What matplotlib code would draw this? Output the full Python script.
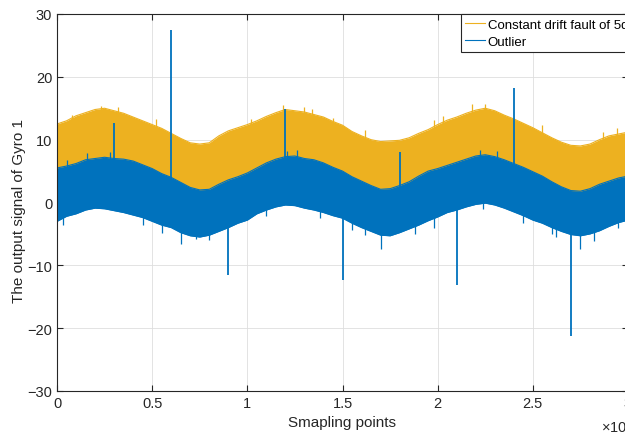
import numpy as np
import matplotlib
matplotlib.use('Agg')
import matplotlib.pyplot as plt
from matplotlib.ticker import FuncFormatter

plt.rcParams['font.family'] = ['Liberation Sans', 'DejaVu Sans']
plt.rcParams['mathtext.fontset'] = 'custom'
plt.rcParams['mathtext.rm'] = 'Liberation Sans'

# envelope of the two gyro signals, read every 500 samples
samples = np.arange(0, 30001, 500)

drift_upper = [12.5, 13.0, 13.8, 14.3, 14.8, 15.0, 14.6, 14.2, 13.6, 13.0, 12.4,
               11.8, 11.0, 10.2, 9.5, 9.3, 9.5, 10.6, 11.4, 11.9, 12.4,
               13.0, 13.7, 14.3, 14.8, 14.6, 14.4, 14.0, 13.6, 12.9, 12.3,
               11.3, 10.6, 10.0, 9.7, 9.8, 9.9, 10.3, 11.0, 11.6, 12.4,
               13.1, 13.6, 14.2, 14.7, 15.0, 14.6, 13.9, 13.3, 12.6, 11.9,
               11.1, 10.3, 9.6, 9.1, 9.0, 9.3, 10.0, 10.6, 10.9, 11.2]
drift_lower = [5.0, 5.3, 5.7, 6.3, 6.5, 6.7, 6.5, 6.4, 6.1, 5.5, 4.9,
               4.1, 3.5, 2.7, 1.9, 1.5, 1.6, 2.4, 3.1, 3.6, 4.2,
               5.0, 5.8, 6.4, 6.8, 6.9, 6.5, 6.3, 5.8, 5.1, 4.5,
               3.6, 2.9, 2.2, 1.6, 1.7, 2.2, 2.8, 3.7, 4.5, 4.9,
               5.4, 5.9, 6.4, 6.9, 7.1, 6.8, 6.3, 5.7, 5.1, 4.4,
               3.7, 2.8, 2.0, 1.4, 1.3, 1.7, 2.4, 2.9, 3.4, 3.7]
outlier_upper = [5.5, 5.8, 6.2, 6.8, 7.0, 7.2, 7.0, 6.9, 6.6, 6.0, 5.4,
                 4.6, 4.0, 3.2, 2.4, 2.0, 2.1, 2.9, 3.6, 4.1, 4.7,
                 5.5, 6.3, 6.9, 7.3, 7.4, 7.0, 6.8, 6.3, 5.6, 5.0,
                 4.1, 3.4, 2.7, 2.1, 2.2, 2.7, 3.3, 4.2, 5.0, 5.4,
                 5.9, 6.4, 6.9, 7.4, 7.6, 7.3, 6.8, 6.2, 5.6, 4.9,
                 4.2, 3.3, 2.5, 1.9, 1.8, 2.2, 2.9, 3.4, 3.9, 4.2]
outlier_lower = [-3.0, -2.2, -1.8, -1.2, -0.9, -1.0, -1.3, -1.6, -2.0, -2.4, -3.0,
                 -3.6, -4.0, -4.8, -5.3, -5.5, -5.2, -4.6, -4.0, -3.3, -2.8,
                 -1.8, -1.2, -0.7, -0.4, -0.5, -0.9, -1.2, -1.6, -2.1, -2.5,
                 -3.3, -4.0, -4.6, -5.2, -5.3, -4.8, -4.2, -3.6, -2.9, -2.3,
                 -1.6, -1.2, -0.7, -0.3, -0.1, -0.4, -0.9, -1.5, -2.1, -2.8,
                 -3.3, -4.0, -4.6, -5.1, -5.3, -5.0, -4.5, -3.8, -3.2, -2.8]

# injected outliers of the blue signal
spike_idx = [0, 3000, 6000, 9000, 12000, 15000, 18000, 21000, 24000, 27000]
spike_base = [9.9, 5.0, 3.0, -3.0, 5.0, -2.0, 2.0, -1.0, 4.0, -4.0]
spike_val = [14.6, 12.7, 27.4, -11.5, 14.9, -12.3, 8.0, -13.2, 18.2, -21.2]

# single noisy samples sticking out of the bands
drift_peak_idx = [800, 2300, 3200, 5200, 10200, 11900, 13000, 13400, 14500,
                  16200, 19800, 20300, 21800, 22500, 25500, 28700, 29400]
drift_peak_val = [14.0, 15.3, 15.2, 13.3, 13.3, 15.5, 15.2, 14.9, 13.4,
                  11.6, 13.2, 13.8, 15.7, 15.6, 12.4, 11.2, 11.8]
up_peak_idx = [500, 1600, 2800, 12100, 12600, 22200, 23100]
up_peak_val = [6.8, 7.8, 8.0, 8.2, 8.4, 8.4, 8.2]
low_peak_idx = [300, 4500, 5500, 6500, 7300, 8000, 11000, 13800, 15500,
                16200, 17000, 18800, 19800, 22400, 24500, 26000, 26200,
                27500, 28200, 29500]
low_peak_val = [-3.6, -3.6, -4.8, -6.6, -5.8, -6.0, -2.2, -2.4, -4.4,
                -5.2, -7.4, -5.0, -4.0, -1.1, -3.2, -5.0, -5.5,
                -7.4, -6.2, -4.0]

c_drift = '#EDB120'
c_out = '#0072BD'
dark = '#262626'

fig = plt.figure(figsize=(6.25, 4.35), dpi=100)
ax = fig.add_axes([57 / 625, 43 / 435, 571 / 625, 377 / 435])

ax.fill_between(samples, drift_lower, drift_upper, color=c_drift, lw=0)
ax.plot(samples, drift_upper, color=c_drift, lw=0.8,
        label='Constant drift fault of 5deg/s')
ax.vlines(drift_peak_idx, np.array(drift_peak_val) - 3, drift_peak_val,
          color=c_drift, lw=0.9)

ax.fill_between(samples, outlier_lower, outlier_upper, color=c_out, lw=0)
ax.plot(samples, outlier_upper, color=c_out, lw=0.8, label='Outlier')
ax.plot(samples, outlier_lower, color=c_out, lw=0.8)
ax.vlines(up_peak_idx, np.array(up_peak_val) - 3, up_peak_val,
          color=c_out, lw=0.9)
ax.vlines(low_peak_idx, np.array(low_peak_val) + 3, low_peak_val,
          color=c_out, lw=0.9)
ax.vlines(spike_idx, spike_base, spike_val, color=c_out, lw=1.3)

ax.set_xlim(0, 30000)
ax.set_ylim(-30, 30)
ax.set_xticks(np.arange(0, 30001, 5000))
ax.set_yticks(np.arange(-30, 31, 10))
ax.xaxis.set_major_formatter(FuncFormatter(lambda v, p: '%g' % (v / 1e4)))
ax.grid(True, color='#dedede', lw=0.6)
ax.set_axisbelow(True)
ax.tick_params(direction='in', top=True, right=True, length=4, width=0.8,
               colors=dark, labelsize=10.5, pad=3.5)
for s in ax.spines.values():
    s.set_color(dark)
    s.set_linewidth(0.8)

ax.set_xlabel('Smapling points', fontsize=11, color=dark)
ax.xaxis.set_label_coords(0.5, -0.064)
ax.set_ylabel('The output signal of Gyro 1', fontsize=11, color=dark)
ax.yaxis.set_label_coords(-0.054, 0.48)
ax.text(1.009, -0.109, r'$\times10^{4}$', transform=ax.transAxes,
        ha='right', va='baseline', fontsize=10.5, color=dark)

leg = ax.legend(loc='upper left', bbox_to_anchor=(0.707, 1.0), borderaxespad=0,
                fancybox=False, framealpha=1, edgecolor=dark, fontsize=9.5,
                handlelength=1.5, handletextpad=0.2, borderpad=0.35,
                labelspacing=0.35)
leg.get_frame().set_linewidth(0.8)

fig.savefig('out.png', dpi=100)
